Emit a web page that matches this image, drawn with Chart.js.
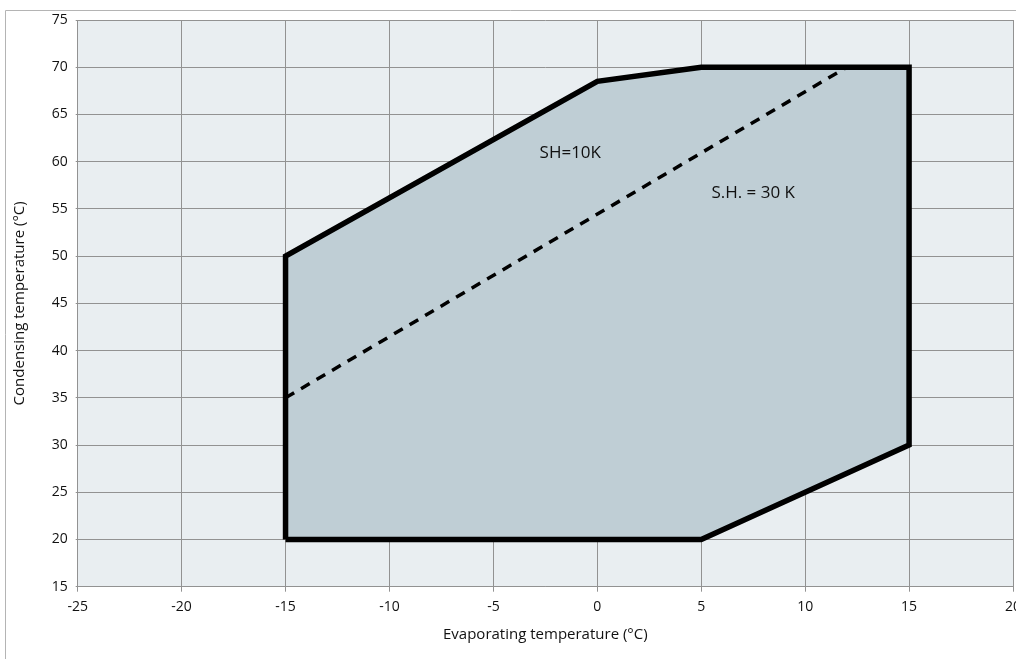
<!DOCTYPE html>
<html>
<head>
<meta charset="utf-8">
<script src="https://cdn.jsdelivr.net/npm/chart.js@4/dist/chart.umd.min.js"></script>
<style>
html,body{margin:0;padding:0;background:#fff;}
#wrap{position:absolute;left:0;top:0;width:1016px;height:659px;}
</style>
</head>
<body>
<div id="wrap"><canvas id="c"></canvas></div>
<script>
// Data
const envelopeX = [-15, -15, 0, 5, 15, 15, 5, -15];
const envelopeY = [20, 50, 68.5, 70, 70, 30, 20, 20];
const dashX = [-15, 12];
const dashY = [35, 70];
const labelTexts = ['SH=10K', 'S.H. = 30 K'];
const labelX = [-1.3, 7.5];
const labelY = [60.9, 56.7];
const xTicks = [-25, -20, -15, -10, -5, 0, 5, 10, 15, 20];
const yTicks = [15, 20, 25, 30, 35, 40, 45, 50, 55, 60, 65, 70, 75];

const toPts = (xs, ys) => xs.map((x, i) => ({x: x, y: ys[i]}));
const FONT = '"Open Sans", "Noto Sans", sans-serif';

const bgPlugin = {
  id: 'bg',
  beforeDraw(chart) {
    const {ctx, chartArea: a} = chart;
    ctx.save();
    ctx.fillStyle = '#e9eef1';
    ctx.fillRect(a.left, a.top, a.right - a.left, a.bottom - a.top);
    // outer frame
    ctx.strokeStyle = '#b4b4b4';
    ctx.lineWidth = 1;
    ctx.beginPath();
    ctx.moveTo(5.5, 659);
    ctx.lineTo(5.5, 10.5);
    ctx.lineTo(1016, 10.5);
    ctx.stroke();
    ctx.restore();
  },
  afterDatasetsDraw(chart) {
    const {ctx, scales} = chart;
    ctx.save();
    ctx.fillStyle = '#111';
    ctx.font = '17px ' + FONT;
    ctx.textAlign = 'center';
    ctx.textBaseline = 'middle';
    labelTexts.forEach((t, i) => {
      ctx.fillText(t, scales.x.getPixelForValue(labelX[i]), scales.y.getPixelForValue(labelY[i]));
    });
    ctx.restore();
  }
};

new Chart(document.getElementById('c'), {
  type: 'scatter',
  data: {
    datasets: [
      {
        data: toPts(envelopeX, envelopeY),
        showLine: true,
        fill: 'shape',
        backgroundColor: '#bfced5',
        borderColor: '#000',
        borderWidth: 5.5,
        pointRadius: 0,
        tension: 0,
        borderJoinStyle: 'miter',
        order: 2
      },
      {
        data: toPts(dashX, dashY),
        showLine: true,
        fill: false,
        borderColor: '#000',
        borderWidth: 3.5,
        borderDash: [10, 8],
        pointRadius: 0,
        order: 1
      }
    ]
  },
  options: {
    responsive: true,
    maintainAspectRatio: false,
    animation: false,
    layout: {padding: {left: 0, top: 20, right: 3, bottom: 0}},
    plugins: {legend: {display: false}, tooltip: {enabled: false}},
    scales: {
      x: {
        type: 'linear',
        min: -25, max: 20,
        afterBuildTicks: s => { s.ticks = xTicks.map(v => ({value: v})); },
        afterFit: s => { s.height = 72.3; s.paddingLeft = 0; s.paddingRight = 0; },
        grid: {color: '#929292', lineWidth: 1, tickLength: 5, drawTicks: true},
        border: {color: '#929292', width: 1},
        ticks: {color: '#111', font: {family: FONT, size: 14}, padding: 7},
        title: {display: true, text: 'Evaporating temperature (°C)', color: '#111', font: {family: FONT, size: 15}, padding: {top: 0, bottom: 15}}
      },
      y: {
        type: 'linear',
        min: 15, max: 75,
        afterBuildTicks: s => { s.ticks = yTicks.map(v => ({value: v})); },
        afterFit: s => { s.width = 77.7; s.paddingTop = 0; s.paddingBottom = 0; },
        grid: {color: '#929292', lineWidth: 1, tickLength: 2, drawTicks: true},
        border: {color: '#929292', width: 1},
        ticks: {color: '#111', font: {family: FONT, size: 14}, padding: 8},
        title: {display: true, text: 'Condensing temperature (°C)', color: '#111', font: {family: FONT, size: 15}, padding: {top: 11, bottom: 0}}
      }
    }
  },
  plugins: [bgPlugin]
});
</script>
</body>
</html>
